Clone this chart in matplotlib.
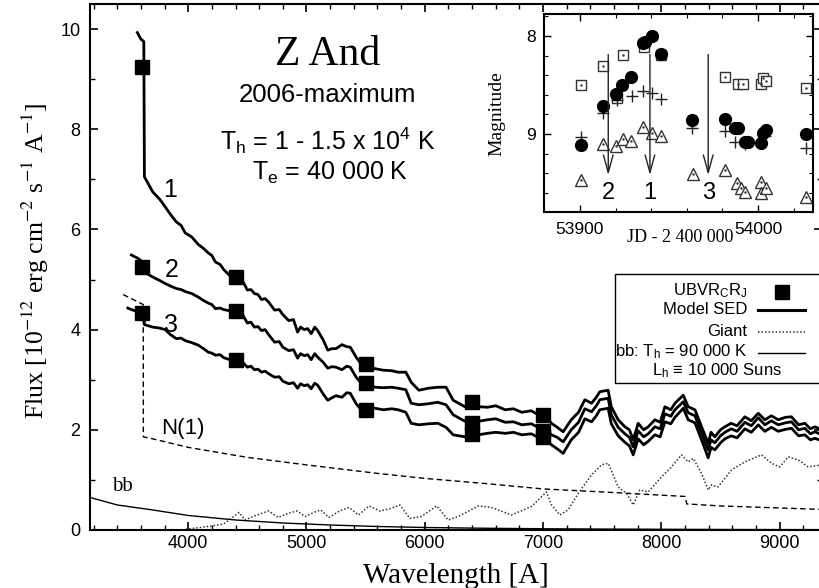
import numpy as np
import matplotlib
matplotlib.use('Agg')
import matplotlib.pyplot as plt
from matplotlib.lines import Line2D
from matplotlib.patches import Rectangle
from matplotlib.ticker import MultipleLocator

plt.rcParams['font.family'] = ['Liberation Sans', 'DejaVu Sans']
plt.rcParams['mathtext.fontset'] = 'custom'
plt.rcParams['mathtext.rm'] = 'Liberation Sans'
plt.rcParams['mathtext.it'] = 'Liberation Sans:italic'
plt.rcParams['mathtext.bf'] = 'Liberation Sans:bold'

# ---------------- data: main panel ----------------
phot_wl = [3610, 4400, 5500, 6400, 7000]
phot_1 = [9.25, 5.05, 3.31, 2.55, 2.30]
phot_2 = [5.25, 4.37, 2.93, 2.13, 1.98]
phot_3 = [4.33, 3.39, 2.40, 1.92, 1.85]

sed_wl = [3490, 3520, 3570, 3600, 3625, 3630, 3700, 3760, 3806, 3850, 3900, 3940,
          3975, 4030, 4085, 4130, 4170, 4200, 4230, 4270, 4300, 4364, 4420, 4460,
          4500, 4530, 4560, 4590, 4620, 4650, 4680, 4730, 4770, 4800, 4850, 4890,
          4925, 4950, 4980, 5010, 5040, 5070, 5095, 5140, 5180, 5215, 5250, 5300,
          5340, 5370, 5420, 5463, 5520, 5580, 5650, 5720, 5775, 5840, 5885, 5950,
          6030, 6110, 6180, 6240, 6340, 6400, 6530, 6600, 6680, 6750, 6820, 6900,
          6960, 7020, 7071, 7120, 7170, 7238, 7300, 7353, 7410, 7450, 7480, 7550,
          7577, 7635, 7692, 7730, 7762, 7804, 7850, 7889, 7945, 7990, 8030, 8080,
          8115, 8185, 8227, 8284, 8340, 8396, 8420, 8452, 8500, 8537, 8590, 8640,
          8706, 8760, 8819, 8875, 8930, 8988, 9050, 9100, 9160, 9213, 9260, 9297,
          9360]
sed_1 = [np.nan, np.nan, 9.93, 9.80, 9.75, 7.05, 6.75, 6.60, 6.45, 6.30, 6.15, 6.08,
         5.93, 5.85, 5.70, 5.62, 5.53, 5.48, 5.35, 5.30, 5.20, 5.05, 4.95, 4.97,
         4.79, 4.80, 4.72, 4.70, 4.60, 4.62, 4.55, 4.39, 4.40, 4.30, 4.18, 4.20,
         3.95, 4.05, 4.00, 4.02, 3.92, 4.05, 3.98, 3.80, 3.59, 3.62, 3.62, 3.70,
         3.66, 3.65, 3.45, 3.31, 3.28, 3.22, 3.19, 3.18, 3.15, 3.15, 2.95, 2.79,
         2.83, 2.85, 2.85, 2.59, 2.46, 2.47, 2.45, 2.48, 2.40, 2.42, 2.35, 2.38,
         2.30, 2.28, 2.13, 2.05, 1.96, 2.20, 2.35, 2.60, 2.53, 2.65, 2.76, 2.79,
         2.46, 2.20, 2.06, 2.00, 1.80, 2.13, 2.00, 2.06, 2.20, 2.15, 2.46, 2.40,
         2.53, 2.69, 2.46, 2.40, 2.06, 1.73, 1.95, 1.86, 2.00, 2.06, 2.13, 2.08,
         2.26, 2.18, 2.33, 2.20, 2.28, 2.20, 2.25, 2.26, 2.10, 2.13, 2.02, 2.06,
         2.00]
sed_2 = [np.nan, 5.49, 5.43, 5.38, 5.30, 5.15, 5.05, 4.98, 4.92, 4.87, 4.82, 4.80,
         4.76, 4.72, 4.65, 4.58, 4.53, 4.50, 4.42, 4.43, 4.40, 4.37, 4.28, 4.30,
         4.13, 4.15, 4.05, 4.06, 3.98, 4.00, 3.90, 3.75, 3.76, 3.65, 3.58, 3.60,
         3.43, 3.52, 3.48, 3.50, 3.40, 3.52, 3.45, 3.35, 3.23, 3.26, 3.25, 3.20,
         3.27, 3.25, 3.05, 2.93, 2.90, 2.85, 2.84, 2.85, 2.83, 2.80, 2.53, 2.50,
         2.52, 2.55, 2.50, 2.30, 2.17, 2.15, 2.20, 2.22, 2.15, 2.16, 2.10, 2.12,
         2.05, 2.02, 1.90, 1.85, 1.76, 2.00, 2.15, 2.42, 2.36, 2.48, 2.60, 2.63,
         2.30, 2.05, 1.92, 1.85, 1.66, 1.98, 1.86, 1.92, 2.06, 2.02, 2.32, 2.27,
         2.40, 2.56, 2.34, 2.28, 1.94, 1.60, 1.80, 1.74, 1.88, 1.95, 2.02, 1.97,
         2.15, 2.08, 2.24, 2.10, 2.18, 2.10, 2.14, 2.16, 2.00, 2.03, 1.92, 1.96,
         1.90]
sed_3 = [4.43, 4.40, 4.36, 4.33, 4.28, 4.10, 4.05, 4.03, 4.00, 3.90, 3.82, 3.83,
         3.78, 3.74, 3.69, 3.62, 3.55, 3.53, 3.49, 3.50, 3.44, 3.39, 3.33, 3.35,
         3.25, 3.27, 3.20, 3.21, 3.15, 3.17, 3.12, 3.05, 3.06, 2.97, 2.92, 2.94,
         2.83, 2.92, 2.88, 2.90, 2.82, 2.93, 2.89, 2.72, 2.59, 2.64, 2.68, 2.65,
         2.74, 2.73, 2.52, 2.40, 2.45, 2.43, 2.40, 2.42, 2.40, 2.35, 2.13, 2.10,
         2.12, 2.13, 2.05, 1.90, 1.86, 1.88, 1.93, 1.95, 1.93, 1.95, 1.90, 1.92,
         1.85, 1.82, 1.70, 1.62, 1.53, 1.80, 1.95, 2.22, 2.16, 2.28, 2.40, 2.43,
         2.12, 1.88, 1.75, 1.68, 1.50, 1.82, 1.70, 1.77, 1.90, 1.86, 2.16, 2.12,
         2.25, 2.43, 2.20, 2.14, 1.80, 1.44, 1.65, 1.60, 1.74, 1.82, 1.88, 1.84,
         2.02, 1.95, 2.10, 1.97, 2.05, 1.97, 2.01, 2.03, 1.88, 1.90, 1.80, 1.83,
         1.78]

giant_wl = [3950, 4000, 4100, 4200, 4300, 4430, 4480, 4560, 4680, 4760, 4840, 4920,
            4990, 5060, 5120, 5190, 5280, 5360, 5440, 5530, 5620, 5700, 5790, 5874,
            5972, 6100, 6198, 6283, 6452, 6564, 6733, 6902, 7029, 7071, 7142, 7212,
            7297, 7410, 7494, 7551, 7635, 7706, 7762, 7818, 7889, 8001, 8086, 8170,
            8227, 8269, 8340, 8396, 8424, 8480, 8593, 8706, 8847, 8932, 9002, 9072,
            9157, 9241, 9360]
giant_f = [0.0, 0.02, 0.05, 0.08, 0.12, 0.35, 0.20, 0.28, 0.38, 0.25, 0.33, 0.38,
           0.27, 0.35, 0.40, 0.25, 0.38, 0.45, 0.30, 0.48, 0.38, 0.42, 0.50, 0.23,
           0.27, 0.48, 0.20, 0.27, 0.48, 0.45, 0.30, 0.47, 0.76, 0.50, 0.30, 0.40,
           0.73, 1.10, 1.30, 1.33, 0.86, 0.73, 0.50, 0.80, 0.76, 1.06, 1.26, 1.50,
           1.36, 1.43, 1.13, 0.80, 0.90, 0.86, 1.20, 1.36, 1.50, 1.33, 1.26, 1.46,
           1.40, 1.26, 1.30]

neb_wl = [3450, 3620, 3621, 3700, 4000, 4500, 5000, 5600, 6000, 6500, 7000, 7500,
          8200, 8215, 8500, 9000, 9360]
neb_f = [4.70, 4.50, 1.86, 1.82, 1.65, 1.45, 1.30, 1.13, 1.03, 0.93, 0.82, 0.76,
         0.67, 0.52, 0.48, 0.44, 0.41]

bb_wl = [3170, 3400, 3700, 4000, 4400, 4800, 5200, 5600, 6000, 6500, 7000, 7500,
         8000, 8500, 9000, 9360]
bb_f = [0.65, 0.50, 0.40, 0.29, 0.20, 0.14, 0.10, 0.07, 0.05, 0.035, 0.025, 0.018,
        0.014, 0.010, 0.008, 0.007]

# ---------------- data: inset ----------------
circ_jd = [53900.4, 53912.7, 53920.2, 53923.7, 53928.6, 53935.2, 53936.6, 53940.6,
           53945.5, 53963.0, 53981.3, 53987.0, 53988.8, 53992.6, 53994.4, 54001.9,
           54002.5, 54004.7, 54026.8]
circ_mag = [9.11, 8.71, 8.59, 8.50, 8.415, 8.075, 8.06, 8.00, 8.18, 8.86, 8.85,
            8.94, 8.94, 9.08, 9.08, 9.095, 8.99, 8.96, 9.00]
sq_jd = [53900.4, 53912.7, 53920.6, 53923.9, 53936.1, 53945.5, 53981.3, 53988.5,
         53991.6, 54001.4, 54002.5, 54004.7, 54026.8]
sq_mag = [8.50, 8.31, 8.63, 8.19, 8.11, 8.19, 8.415, 8.49, 8.49, 8.49, 8.43, 8.46, 8.53]
plus_jd = [53900.4, 53912.7, 53920.6, 53929.0, 53935.5, 53940.3, 53945.5, 53963.0,
           53981.3, 53987.0, 53992.6, 54003.7, 54026.8]
plus_mag = [9.03, 8.79, 8.65, 8.61, 8.56, 8.585, 8.64, 8.94, 8.97, 9.08, 9.10, 9.02, 9.14]
tri_jd = [53900.4, 53912.7, 53920.2, 53923.9, 53928.6, 53935.5, 53940.6, 53945.5,
          53963.6, 53981.3, 53988.3, 53990.2, 53992.6, 54001.9, 54001.9, 54004.7, 54026.8]
tri_mag = [9.47, 9.105, 9.12, 9.055, 9.07, 8.93, 8.99, 9.02, 9.41, 9.37, 9.50,
           9.555, 9.59, 9.49, 9.60, 9.55, 9.64]
arrow_jd = [53939.3, 53915.9, 53972.0]
arrow_lbl = ['1', '2', '3']

# ---------------- figure ----------------
W, H = 820, 588
fig = plt.figure(figsize=(W / 100, H / 100), dpi=100)
ax = fig.add_axes([90 / W, 1 - 530 / H, 732 / W, 526 / H])

SERIF = ['Liberation Serif', 'DejaVu Serif']

for f in (sed_1, sed_2, sed_3):
    ax.plot(sed_wl, f, color='black', lw=2.0, zorder=3)
ax.plot(neb_wl, neb_f, color='black', lw=1.0, ls=(0, (4, 2.5)), zorder=2)
ax.plot(giant_wl, giant_f, color='#333333', lw=1.1, ls=(0, (1, 1.3)), zorder=2)
ax.plot(bb_wl, bb_f, color='black', lw=1.0, zorder=2)
for f in (phot_1, phot_2, phot_3):
    ax.plot(phot_wl, f, ls='none', marker='s', ms=10, color='black', zorder=4)

ax.set_xlim(3170, 9358)
ax.set_ylim(0, 10.5)
ax.xaxis.set_major_locator(MultipleLocator(1000))
ax.xaxis.set_minor_locator(MultipleLocator(200))
ax.yaxis.set_major_locator(MultipleLocator(2))
ax.yaxis.set_minor_locator(MultipleLocator(1))
ax.tick_params(which='both', direction='in', top=True, right=True, labelsize=13)
ax.tick_params(which='major', length=6, width=1.2)
ax.tick_params(which='minor', length=3.5, width=1.0)
ax.tick_params(axis='y', pad=7)
for s in ax.spines.values():
    s.set_linewidth(1.5)

ax.set_xlabel('Wavelength [A]', fontsize=21, family=SERIF)
ax.xaxis.set_label_coords(0.5, -0.062)
ax.set_ylabel('Flux [10$^{-12}$ erg cm$^{-2}$ s$^{-1}$ A$^{-1}$]', fontsize=18.5,
              family=SERIF, math_fontfamily='stix')
ax.yaxis.set_label_coords(-0.053, 0.511)

ax.text(0.325, 0.903, 'Z And', transform=ax.transAxes, fontsize=30, family=SERIF,
        ha='center', va='center')
ax.text(0.325, 0.827, '2006-maximum', transform=ax.transAxes, fontsize=18.5,
        ha='center', va='center')
ax.text(0.325, 0.741, 'T$_\\mathrm{h}$ = 1 - 1.5 x 10$^\\mathrm{4}$ K', transform=ax.transAxes,
        fontsize=18, ha='center', va='center')
ax.text(0.328, 0.679, 'T$_\\mathrm{e}$ = 40 000 K', transform=ax.transAxes,
        fontsize=18, ha='center', va='center')

ax.text(3848, 6.79, '1', fontsize=18, ha='center', va='center')
ax.text(3857, 5.19, '2', fontsize=18, ha='center', va='center')
ax.text(3857, 4.09, '3', fontsize=18, ha='center', va='center')
ax.text(3958, 2.02, 'N(1)', fontsize=16, ha='center', va='center')
ax.text(3440, 0.86, 'bb', fontsize=15, family=SERIF, ha='center', va='center')

# ---------------- legend box (figure pixels) ----------------
def fx(x):
    return x / W

def fy(y):
    return 1 - y / H

fig.add_artist(Rectangle((fx(615), fy(383)), fx(830) - fx(615), fy(274) - fy(383),
                         transform=fig.transFigure, facecolor='white',
                         edgecolor='black', lw=1.0, zorder=5))
lg_fs = 12
fig.text(fx(747), fy(291), 'UBVR$_\\mathrm{C}$R$_\\mathrm{J}$', fontsize=lg_fs,
         ha='right', va='center', zorder=6)
fig.add_artist(Line2D([fx(782.5)], [fy(292)], marker='s', ms=10, color='black',
                      ls='none', transform=fig.transFigure, zorder=6))
fig.text(fx(747), fy(310), 'Model SED', fontsize=lg_fs, ha='right', va='center', zorder=6)
fig.add_artist(Line2D([fx(758), fx(805)], [fy(310), fy(310)], color='black', lw=2.2,
                      transform=fig.transFigure, zorder=6))
fig.text(fx(747), fy(332), 'Giant', fontsize=lg_fs, ha='right', va='center', zorder=6)
fig.add_artist(Line2D([fx(758), fx(805)], [fy(332), fy(332)], color='#333333', lw=1.1,
                      ls=(0, (1, 1.3)), transform=fig.transFigure, zorder=6))
fig.text(fx(747), fy(352), 'bb: T$_\\mathrm{h}$ = 90 000 K', fontsize=lg_fs,
         ha='right', va='center', zorder=6)
fig.add_artist(Line2D([fx(758), fx(805)], [fy(353), fy(353)], color='black', lw=1.0,
                      transform=fig.transFigure, zorder=6))
fig.text(fx(717), fy(371), 'L$_\\mathrm{h}$ \u2261 10 000 Suns', fontsize=lg_fs,
         ha='center', va='center', zorder=6)

# ---------------- inset ----------------
ins = fig.add_axes([544.3 / W, 1 - 212.3 / H, 269 / W, 198.3 / H])
ins.set_zorder(7)
ins.set_xlim(53880, 54031)
ins.set_ylim(9.8, 7.776)
ec = '#333333'
ins.plot(sq_jd, sq_mag, ls='none', marker='s', ms=7, mfc='white', mec=ec, mew=1.0)
ins.plot(sq_jd, sq_mag, ls='none', marker='.', ms=1.5, color=ec)
ins.plot(tri_jd, tri_mag, ls='none', marker='^', ms=8, mfc='white', mec=ec, mew=1.0)
ins.plot(tri_jd, tri_mag, ls='none', marker='.', ms=1.5, color=ec)
ins.plot(plus_jd, plus_mag, ls='none', marker='+', ms=9, color='#222222', mew=1.0)
ins.plot(circ_jd, circ_mag, ls='none', marker='o', ms=8.5, color='black')
for jd, lb in zip(arrow_jd, arrow_lbl):
    ins.annotate('', xy=(jd, 9.42), xytext=(jd, 8.19),
                 arrowprops=dict(arrowstyle='->,head_length=0.9,head_width=0.25',
                                 lw=1.0, color='#222222', shrinkA=0, shrinkB=0,
                                 mutation_scale=14))
    ins.text(jd, 9.6, lb, fontsize=17, ha='center', va='center')

ins.xaxis.set_major_locator(MultipleLocator(100))
ins.xaxis.set_minor_locator(MultipleLocator(20))
ins.yaxis.set_major_locator(MultipleLocator(1))
ins.yaxis.set_minor_locator(MultipleLocator(0.2))
ins.tick_params(which='both', direction='in', top=True, right=True, labelsize=12.5)
ins.tick_params(which='major', length=5, width=1.0)
ins.tick_params(which='minor', length=3, width=0.8)
ins.tick_params(axis='x', pad=7)
ins.tick_params(axis='y', pad=6)
for s in ins.spines.values():
    s.set_linewidth(1.5)
ins.set_xlabel('JD - 2 400 000', fontsize=13, family=SERIF)
ins.xaxis.set_label_coords(0.505, -0.085)
ins.set_ylabel('Magnitude', fontsize=14, family=SERIF)
ins.yaxis.set_label_coords(-0.145, 0.5)

fig.savefig('out.png', dpi=100)
